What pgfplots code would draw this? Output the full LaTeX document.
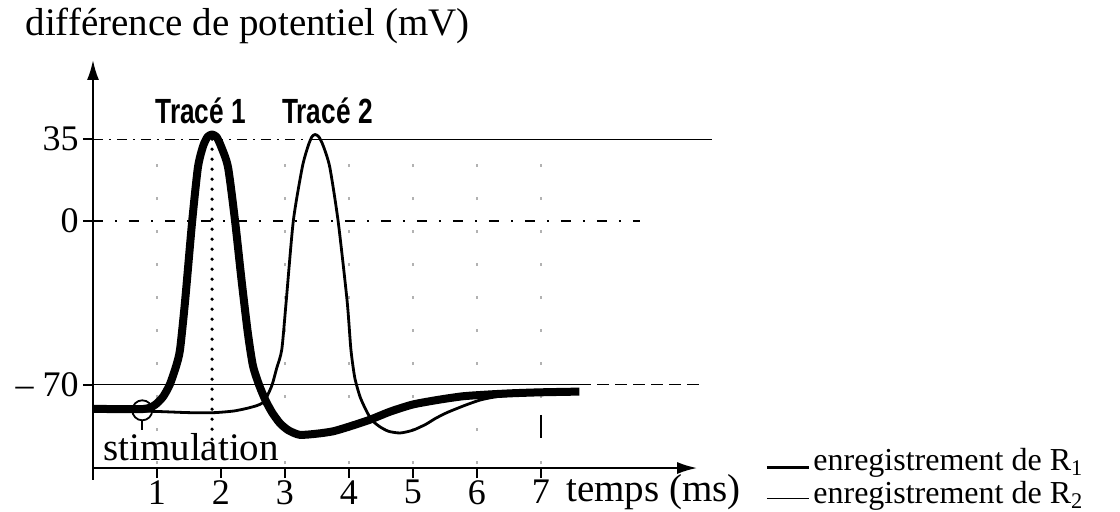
\documentclass[border=0pt]{standalone}
\usepackage{fontspec}
\setmainfont{Liberation Serif}
\newfontfamily\trsans{Liberation Sans}
\usepackage{graphicx}
\usepackage{pgfplots}
\pgfplotsset{compat=1.18}
\usetikzlibrary{arrows.meta}

% enregistrement de R1 (trait épais)
\pgfplotstableread{
t v
0 -80.4
0.5 -80.5
0.77 -80.5
0.9 -79.8
1.0 -78
1.1 -75
1.2 -70
1.3 -62
1.36 -55
1.44 -34
1.55 0
1.64 23
1.72 32
1.79 36
1.86 37
1.93 36
2.0 32
2.11 23
2.22 0
2.32 -25
2.42 -48
2.5 -62
2.6 -70.5
2.7 -77
2.8 -82
2.92 -86.5
3.05 -89.5
3.23 -91.5
3.5 -91
3.75 -90
4.0 -88
4.33 -85
4.65 -81.5
5.0 -78.5
5.4 -76.5
5.78 -75
6.2 -74.2
6.56 -73.7
7.0 -73.3
7.6 -73
}\rone

% enregistrement de R2 (trait fin)
\pgfplotstableread{
t v
0 -81
0.5 -81.2
1.0 -81.5
1.5 -82
1.9 -82
2.2 -81.3
2.4 -80.2
2.56 -79
2.65 -77.8
2.72 -75
2.8 -70
2.87 -63
2.95 -55
3.02 -34
3.13 0
3.27 23
3.36 32
3.42 36
3.47 37
3.53 36
3.6 32
3.7 23
3.83 0
3.97 -34
4.03 -55
4.09 -67
4.17 -75
4.25 -80
4.35 -85
4.48 -88
4.62 -90
4.8 -90.7
5.0 -89.5
5.2 -87
5.35 -84.5
5.53 -82
5.8 -79
6.05 -76.6
6.3 -75.2
6.56 -74.5
6.8 -74
7.0 -73.6
}\rtwo

\begin{document}
\begin{tikzpicture}
\begin{axis}[
  x=32pt, y=1.1685pt,
  xmin=0, xmax=9.44, ymin=-105.7, ymax=68.9,
  axis lines=left,
  axis line style={line width=1pt, -{Latex[length=10pt,width=6pt]}},
  clip=false,
  xtick={1,...,7}, ytick={-70,0,35},
  yticklabels={– 70,0,35},
  tick align=outside, major tick length=5pt,
  tick style={line width=1pt, black},
  ticklabel style={font=\fontsize{18}{20}\selectfont},
  xticklabel style={inner sep=1pt},
  yticklabel style={inner sep=2pt},
  /pgf/number format/assume math mode=true,
]
% repères verticaux pointillés
\foreach \k in {1,3,4,5,6,7}{
  \edef\tmp{\noexpand\draw[gray!60, line width=0.8pt, dash pattern=on 1.5pt off 15pt]
    (axis cs:\k,-104) -- (axis cs:\k,35);}\tmp
}
\draw[line width=0.9pt] (axis cs:7,-83) -- (axis cs:7,-93);
% lignes horizontales
\draw[line width=0.7pt, dash pattern=on 5pt off 3pt on 1pt off 3pt] (axis cs:0,35) -- (axis cs:3.5,35);
\draw[line width=0.7pt] (axis cs:3.5,35) -- (axis cs:9.67,35);
\draw[line width=0.6pt, dash pattern=on 5pt off 6pt on 1pt off 6pt] (axis cs:0,0) -- (axis cs:8.55,0);
\draw[line width=0.7pt] (axis cs:0,-70) -- (axis cs:7.6,-70);
\draw[line width=0.7pt, dash pattern=on 6pt off 3pt] (axis cs:7.6,-70) -- (axis cs:9.48,-70);
% trait vertical au sommet du tracé 1
\draw[line width=1.8pt, line cap=round, dash pattern=on 0pt off 5pt] (axis cs:1.86,35) -- (axis cs:1.86,-96);
% prolongement de l'axe vertical
\draw[line width=1pt] (axis cs:0,-105.7) -- (axis cs:0,-111);

\addplot[black, line width=1.4pt, smooth, tension=0.4, line join=round] table[x=t, y=v] {\rtwo};
\addplot[black, line width=4pt, smooth, tension=0.4, line join=round] table[x=t, y=v] {\rone};

% stimulation
\draw[line width=0.9pt] (axis cs:0.77,-81) circle[radius=5pt];
\draw[line width=0.9pt] (axis cs:0.77,-85.3) -- (axis cs:0.77,-89.6);

\node[anchor=base west, inner sep=0, font=\fontsize{19.5}{22}\selectfont] at (axis cs:-1.06,79.2) {différence de potentiel (mV)};
\node[anchor=base west, inner sep=0] at (axis cs:0.97,41.9) {\scalebox{0.75}[1]{\trsans\bfseries\fontsize{17.5}{20}\selectfont Tracé 1}};
\node[anchor=base west, inner sep=0] at (axis cs:2.95,41.9) {\scalebox{0.75}[1]{\trsans\bfseries\fontsize{17.5}{20}\selectfont Tracé 2}};
\node[anchor=base west, inner sep=0, font=\fontsize{19.5}{22}\selectfont] at (axis cs:0.156,-102.3) {stimulation};
\node[anchor=base west, inner sep=0, font=\fontsize{19.5}{22}\selectfont] at (axis cs:7.39,-120) {temps (ms)};

% légende
\draw[line width=1.8pt] (axis cs:10.53,-105.5) -- (axis cs:11.19,-105.5);
\node[anchor=base west, inner sep=0, font=\fontsize{16}{18}\selectfont] at (axis cs:11.25,-106.6) {enregistrement de R\textsubscript{1}};
\draw[line width=0.8pt] (axis cs:10.53,-118.7) -- (axis cs:11.19,-118.7);
\node[anchor=base west, inner sep=0, font=\fontsize{16}{18}\selectfont] at (axis cs:11.25,-120.7) {enregistrement de R\textsubscript{2}};

\coordinate (bbA) at (axis cs:-1.453,94.57);
\coordinate (bbB) at (axis cs:16.047,-124.1);
\end{axis}
\pgfresetboundingbox
\path[use as bounding box] (bbA) rectangle (bbB);
\end{tikzpicture}
\end{document}
